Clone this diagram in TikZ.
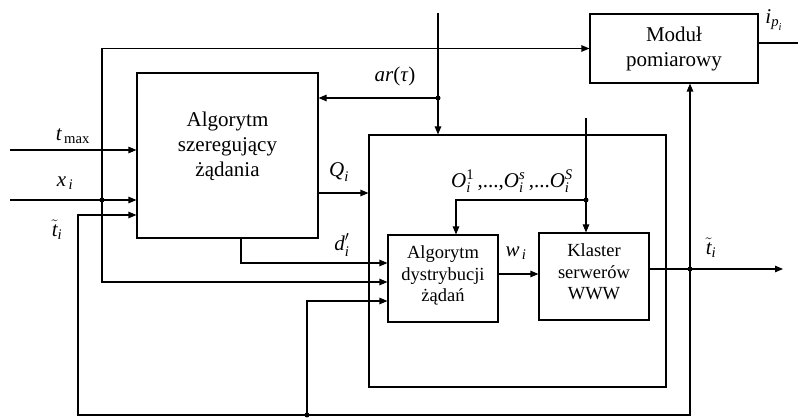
\documentclass[tikz,border=0pt]{standalone}
\usepackage{amsmath}
\usepackage{fontspec}
\setmainfont{Liberation Serif}
\usetikzlibrary{arrows.meta, positioning}
\tikzset{
  bigblock/.style={rectangle, draw, line width=1.1pt, align=center, inner sep=2pt, font=\fontsize{21}{25}\selectfont},
  bigtext/.style={align=center, inner sep=0pt, font=\fontsize{21}{25}\selectfont},
  block/.style={rectangle, draw, line width=1.1pt, align=center, inner sep=2pt, font=\fontsize{18.5}{21.5}\selectfont},
  arrow/.style={-{Triangle[length=8pt, width=6.5pt]}, line width=1.1pt},
  wire/.style={line width=1.1pt},
  junction/.style={circle, fill, inner sep=0pt, minimum size=5pt},
  sig/.style={font=\fontsize{21}{25}\selectfont, inner sep=0pt},
}

\begin{document}
\begin{tikzpicture}[x=1pt, y=-1pt]
  \useasboundingbox (0,0) rectangle (798,419);
  % blocks
  \node[bigblock, minimum width=181pt, minimum height=165pt] (szer) at (227.5,155.5) {};
  \node[bigtext] (szertext) at (227.5,146) {Algorytm\\szeregujący\\żądania};
  \node[block, minimum width=297pt, minimum height=252pt] (uklad) at (517.5,261) {};
  \node[bigblock, minimum width=168pt, minimum height=69pt] (modul) at (674,48.5) {Moduł\\pomiarowy};
  \node[block, minimum width=110pt, minimum height=87pt, text depth=9pt] (dystr) at (443,278.5) {Algorytm\\dystrybucji\\żądań};
  \node[block, minimum width=110pt, minimum height=87pt, text depth=9pt] (klaster) at (594,276.5) {Klaster\\serwerów\\WWW};
  % free ends and junctions
  \coordinate (tmaxin) at (10,150);
  \coordinate (xin) at (10,200);
  \coordinate (arin) at (438,13);
  \coordinate (oin) at (586,118);
  \coordinate (tout) at (783,269);
  \coordinate (ipout) at (798,43);
  \coordinate (dsrc) at (241,238);
  \coordinate (fbleft) at (78,415);
  \node[junction] (xj) at (102,200) {};
  \node[junction] (arj) at (438,98) {};
  \node[junction] (oj) at (586,200) {};
  \node[junction] (tj) at (690,269) {};
  \node[junction] (bj) at (307,415) {};
  % inputs
  \draw[arrow] (tmaxin) -- (tmaxin -| szer.west);
  \draw[arrow] (xin) -- (xin -| szer.west);
  \draw[arrow] (xj.center) |- (modul.west);
  \draw[arrow] (xj.center) |- ([yshift=-3.5pt]dystr.west);
  \draw[arrow] (arin) -- (arin |- uklad.north);
  \draw[arrow] (arj.center) -- (arj -| szer.east);
  \draw[arrow] ([yshift=-37.5pt]szer.east) -- ([yshift=-37.5pt]szer.east -| uklad.west);
  \draw[arrow] (dsrc) |- ([yshift=15.5pt]dystr.west);
  \draw[arrow] (oin) -- (oin |- klaster.north);
  \draw[arrow] (oj.center) -| ([xshift=13pt]dystr.north);
  \draw[arrow] ([yshift=4.5pt]dystr.east) -- ([yshift=4.5pt]dystr.east -| klaster.west);
  % outputs and feedback
  \draw[arrow] (tout -| klaster.east) -- (tout);
  \draw[wire] (ipout -| modul.east) -- (ipout);
  \draw[arrow] (tj.center) -- (tj |- modul.south);
  \draw[arrow] (tj.center) |- (fbleft) |- ([yshift=-59.5pt]szer.west);
  \draw[arrow] (bj.center) |- ([yshift=-22.5pt]dystr.west);
  % labels
  \node[sig] (lbltmax) at (73,136) {$\textit{t}_{\,\textrm{max}}$};
  \node[sig] (lblx) at (65,183) {$\textit{x}_{\,\textit{i}}$};
  \node[sig] (lbltin) at (57,230) {$\tilde{\textit{t}}_{\textit{i}}$};
  \node[sig] (lblar) at (395,76) {\textit{ar}(\textit{τ})};
  \node[sig] (lblq) at (339,172) {$\textit{Q}_{\textit{i}}$};
  \node[sig] (lbld) at (342,245) {$\textit{d}'_{\textit{i}}$};
  \node[sig] (lblw) at (516,253) {$\textit{w}_{\,\textit{i}}$};
  \node[sig] (lblo) at (512,181) {$\textit{O}^{\textrm{1}}_{\textit{i}}$\,,...,$\textit{O}^{\textit{s}}_{\textit{i}}$\,,...$\textit{O}^{\textit{S}}_{\textit{i}}$};
  \node[sig] (lbltout) at (711,248) {$\tilde{\textit{t}}_{\textit{i}}$};
  \node[sig] (lblip) at (774,20) {$\textit{i}_{\textit{p}_{\textit{i}}}$};
\end{tikzpicture}
\end{document}
